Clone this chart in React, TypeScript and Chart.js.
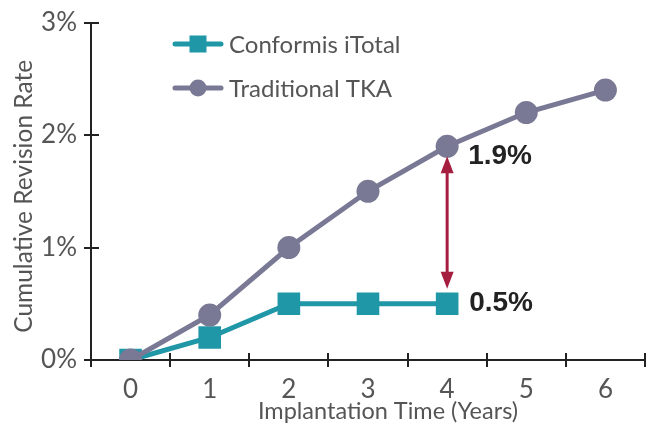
import React, { useEffect, useRef } from 'react';
import { Chart, registerables } from 'chart.js';

Chart.register(...registerables);

const years = ['0', '1', '2', '3', '4', '5', '6'];
const conformisValues = [0, 0.2, 0.5, 0.5, 0.5];
const traditionalValues = [0, 0.4, 1.0, 1.5, 1.9, 2.2, 2.4];
const seriesLabels = ['Conformis iTotal', 'Traditional TKA'];
const yMin = 0;
const yMax = 3;
const yStep = 1;
const annotationIndex = 4;
const annotationTop = 1.9;
const annotationBottom = 0.5;
const annotationTexts = ['1.9%', '0.5%'];
const xTitle = 'Implantation Time (Years)';
const yTitle = 'Cumulative Revision Rate';

const TEAL = '#2097a6';
const GRAY = '#797995';
const ARROW = '#a51d3f';
const AXIS = '#222222';
const TEXT = '#555555';
const FONT = 'Lato';

export default function App() {
  const ref = useRef<HTMLCanvasElement | null>(null);

  useEffect(() => {
    document.body.style.margin = '0';
    const canvas = ref.current;
    if (!canvas) return;

    const innerTicks = {
      id: 'innerTicks',
      afterDraw(chart: any) {
        const ctx = chart.ctx;
        const xs = chart.scales.x;
        const ys = chart.scales.y;
        const area = chart.chartArea;
        ctx.save();
        ctx.strokeStyle = AXIS;
        ctx.lineWidth = 2;
        for (let i = 0; i <= years.length; i++) {
          const px = Math.round(xs.getPixelForValue(i - 0.5));
          ctx.beginPath();
          ctx.moveTo(px, area.bottom);
          ctx.lineTo(px, area.bottom - 7);
          ctx.stroke();
        }
        for (let v = yMin; v <= yMax; v += yStep) {
          const py = Math.round(ys.getPixelForValue(v));
          ctx.beginPath();
          ctx.moveTo(area.left, py);
          ctx.lineTo(area.left + 8, py);
          ctx.stroke();
        }
        // axis titles
        ctx.fillStyle = TEXT;
        ctx.textAlign = 'center';
        ctx.textBaseline = 'middle';
        ctx.font = `23.5px ${FONT}`;
        ctx.fillText(xTitle, (area.left + area.right) / 2 + 20, 411);
        ctx.save();
        ctx.translate(24.5, (area.top + area.bottom) / 2 + 5);
        ctx.rotate(-Math.PI / 2);
        ctx.font = `24.5px ${FONT}`;
        ctx.fillText(yTitle, 0, 0);
        ctx.restore();
        ctx.restore();
      },
    };

    const annotation = {
      id: 'annotation',
      afterDatasetsDraw(chart: any) {
        const ctx = chart.ctx;
        const xs = chart.scales.x;
        const ys = chart.scales.y;
        const x = xs.getPixelForValue(annotationIndex);
        const yTop = ys.getPixelForValue(annotationTop) + 10;
        const yBot = ys.getPixelForValue(annotationBottom) - 15;
        const headL = 17;
        const headW = 6.5;
        ctx.save();
        ctx.strokeStyle = ARROW;
        ctx.fillStyle = ARROW;
        ctx.lineWidth = 3;
        ctx.beginPath();
        ctx.moveTo(x, yTop + headL - 2);
        ctx.lineTo(x, yBot - headL + 2);
        ctx.stroke();
        ctx.beginPath();
        ctx.moveTo(x, yTop);
        ctx.lineTo(x - headW, yTop + headL);
        ctx.lineTo(x + headW, yTop + headL);
        ctx.closePath();
        ctx.fill();
        ctx.beginPath();
        ctx.moveTo(x, yBot);
        ctx.lineTo(x - headW, yBot - headL);
        ctx.lineTo(x + headW, yBot - headL);
        ctx.closePath();
        ctx.fill();

        ctx.fillStyle = '#222222';
        ctx.font = 'bold 28px "Liberation Sans", Arial, sans-serif';
        ctx.textAlign = 'left';
        ctx.textBaseline = 'alphabetic';
        ctx.fillText(annotationTexts[0], x + 21, ys.getPixelForValue(annotationTop) + 18);
        ctx.fillText(annotationTexts[1], x + 22, ys.getPixelForValue(annotationBottom) + 7);
        ctx.restore();
      },
    };

    const legend = {
      id: 'customLegend',
      afterDraw(chart: any) {
        const ctx = chart.ctx;
        const rows = [
          { y: 44, color: TEAL, style: 'rect' },
          { y: 88, color: GRAY, style: 'circle' },
        ];
        ctx.save();
        rows.forEach((r, i) => {
          ctx.strokeStyle = r.color;
          ctx.fillStyle = r.color;
          ctx.lineWidth = 5;
          ctx.lineCap = 'round';
          ctx.beginPath();
          ctx.moveTo(175, r.y);
          ctx.lineTo(221, r.y);
          ctx.stroke();
          if (r.style === 'rect') {
            ctx.fillRect(189.5, r.y - 8.5, 17, 17);
          } else {
            ctx.beginPath();
            ctx.arc(198, r.y, 8.5, 0, Math.PI * 2);
            ctx.fill();
          }
          ctx.fillStyle = TEXT;
          ctx.font = `24px ${FONT}`;
          ctx.textAlign = 'left';
          ctx.textBaseline = 'middle';
          ctx.fillText(seriesLabels[i], 229, r.y + 1);
        });
        ctx.restore();
      },
    };

    const chart = new Chart(canvas, {
      type: 'line',
      data: {
        labels: years,
        datasets: [
          {
            label: seriesLabels[0],
            data: conformisValues,
            borderColor: TEAL,
            backgroundColor: TEAL,
            borderWidth: 5,
            pointStyle: 'rect',
            pointRadius: 16,
            pointBorderWidth: 0,
            pointBackgroundColor: TEAL,
            tension: 0,
            order: 1,
          },
          {
            label: seriesLabels[1],
            data: traditionalValues,
            borderColor: GRAY,
            backgroundColor: GRAY,
            borderWidth: 5,
            pointStyle: 'circle',
            pointRadius: 11.5,
            pointBorderWidth: 0,
            pointBackgroundColor: GRAY,
            tension: 0,
            order: 0,
          },
        ],
      },
      options: {
        responsive: false,
        animation: false,
        devicePixelRatio: 1,
        layout: { autoPadding: false, padding: { top: 20, right: 8, bottom: 0, left: 0 } },
        plugins: { legend: { display: false }, tooltip: { enabled: false } },
        scales: {
          x: {
            type: 'category',
            offset: true,
            afterFit: (s: any) => { s.height = 69; s.paddingLeft = 0; s.paddingRight = 0; },
            grid: { offset: true, drawOnChartArea: false, tickLength: 7, color: AXIS, lineWidth: 2 },
            border: { color: AXIS, width: 2 },
            ticks: { color: TEXT, font: { family: FONT, size: 26 }, padding: 7, maxRotation: 0 },
            title: { display: false },
          },
          y: {
            type: 'linear',
            min: yMin,
            max: yMax,
            afterFit: (s: any) => { s.width = 91; },
            grid: { drawOnChartArea: false, tickLength: 7, color: AXIS, lineWidth: 2 },
            border: { color: AXIS, width: 2 },
            ticks: { stepSize: yStep, color: TEXT, font: { family: FONT, size: 26 }, padding: 7, callback: (v: any) => v + '%' },
            title: { display: false },
          },
        },
      },
      plugins: [innerTicks, annotation, legend],
    });

    return () => chart.destroy();
  }, []);

  return (
    <div style={{ width: 653, height: 429 }}>
      <canvas ref={ref} width={653} height={429} />
    </div>
  );
}
